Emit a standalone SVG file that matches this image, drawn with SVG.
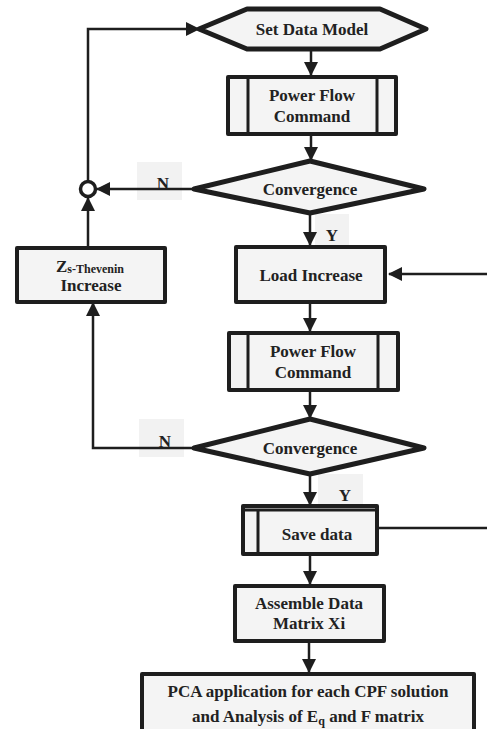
<svg xmlns="http://www.w3.org/2000/svg" width="487" height="729" viewBox="0 0 487 729">
<style>
.bx{fill:#f4f4f4;stroke:#1e1e1e;stroke-width:4;stroke-linejoin:round}
.th{fill:#f4f4f4;stroke:#1e1e1e;stroke-width:5;stroke-linejoin:round}
.in{stroke:#1e1e1e;stroke-width:3;fill:none}
.t{font-family:"Liberation Serif","Times New Roman",serif;font-weight:bold;font-size:17px;fill:#222;text-anchor:middle}
.s{font-size:12px}
.lb{fill:#f2f2f2;stroke:none}
.c{stroke:#1e1e1e;stroke-width:2.5;fill:none}
</style>
<defs>
<marker id="ah" markerUnits="userSpaceOnUse" markerWidth="14" markerHeight="14" refX="13" refY="7" orient="auto">
<path d="M0,0 L14,7 L0,14 z" fill="#1e1e1e"/>
</marker>
</defs>

<g id="labels-bg">
<rect class="lb" x="137" y="162" width="45" height="38"/>
<rect class="lb" x="315" y="214" width="34" height="31"/>
<rect class="lb" x="139" y="419" width="45" height="38"/>
<rect class="lb" x="318" y="474" width="45" height="30"/>
</g>

<g id="connectors">
<path class="c" d="M311,50 V75" marker-end="url(#ah)"/>
<path class="c" d="M311,135 V160" marker-end="url(#ah)"/>
<path class="c" d="M193,189 H97" marker-end="url(#ah)"/>
<path class="c" d="M88,182 V29 H199" marker-end="url(#ah)"/>
<path class="c" d="M88,246 V198" marker-end="url(#ah)"/>
<path class="c" d="M310,214 V245" marker-end="url(#ah)"/>
<path class="c" d="M487,274 H389" marker-end="url(#ah)"/>
<path class="c" d="M310,304 V331" marker-end="url(#ah)"/>
<path class="c" d="M310,391 V418" marker-end="url(#ah)"/>
<path class="c" d="M193,448 H93 V303" marker-end="url(#ah)"/>
<path class="c" d="M310,475 V505" marker-end="url(#ah)"/>
<path class="c" d="M378,528 H487"/>
<path class="c" d="M310,555 V584" marker-end="url(#ah)"/>
<path class="c" d="M309,642 V672" marker-end="url(#ah)"/>
<text class="t" x="163" y="189">N</text>
<text class="t" x="332" y="241">Y</text>
<text class="t" x="165" y="447">N</text>
<text class="t" x="345" y="501">Y</text>
</g>

<g id="junction">
<circle cx="88" cy="189" r="7.5" fill="#fff" stroke="#1e1e1e" stroke-width="3.5"/>
</g>

<g id="set-data-model">
<polygon class="th" points="199,29 247,9 380,9 426,29 380,49 247,49"/>
<text class="t" x="312" y="35">Set Data Model</text>
</g>

<g id="power-flow-1">
<rect class="bx" x="228" y="77" width="168" height="57"/>
<line class="in" x1="248" y1="77" x2="248" y2="134"/>
<line class="in" x1="377" y1="77" x2="377" y2="134"/>
<text class="t" x="312" y="101">Power Flow</text>
<text class="t" x="312" y="122">Command</text>
</g>

<g id="convergence-1">
<polygon class="th" points="194,189 310,161 424,189 310,213"/>
<text class="t" x="310" y="195">Convergence</text>
</g>

<g id="z-thevenin">
<rect class="bx" x="17" y="248" width="148" height="54"/>
<text class="t" x="90" y="272">Z<tspan class="s" dy="1">s-Thevenin</tspan></text>
<text class="t" x="91" y="291">Increase</text>
</g>

<g id="load-increase">
<rect class="bx" x="236" y="247" width="149" height="55"/>
<text class="t" x="311" y="281">Load Increase</text>
</g>

<g id="power-flow-2">
<rect class="bx" x="229" y="333" width="169" height="57"/>
<line class="in" x1="248" y1="333" x2="248" y2="390"/>
<line class="in" x1="378" y1="333" x2="378" y2="390"/>
<text class="t" x="313" y="357">Power Flow</text>
<text class="t" x="313" y="378">Command</text>
</g>

<g id="convergence-2">
<polygon class="th" points="194,448 310,419 424,448 310,474"/>
<text class="t" x="310" y="454">Convergence</text>
</g>

<g id="save-data">
<rect class="bx" x="243" y="506" width="134" height="48"/>
<line class="in" x1="245" y1="510" x2="375" y2="510" stroke-width="2"/>
<line class="in" x1="258" y1="510" x2="258" y2="553"/>
<text class="t" x="317" y="540">Save data</text>
</g>

<g id="assemble">
<rect class="bx" x="235" y="586" width="149" height="55"/>
<text class="t" x="309" y="609">Assemble Data</text>
<text class="t" x="309" y="629">Matrix Xi</text>
</g>

<g id="pca">
<rect class="bx" x="142" y="674" width="332" height="62"/>
<text class="t" x="308" y="697">PCA application for each CPF solution</text>
<text class="t" x="308" y="722">and Analysis of E<tspan class="s" dy="3">q</tspan><tspan dy="-3"> and F matrix</tspan></text>
</g>
</svg>
